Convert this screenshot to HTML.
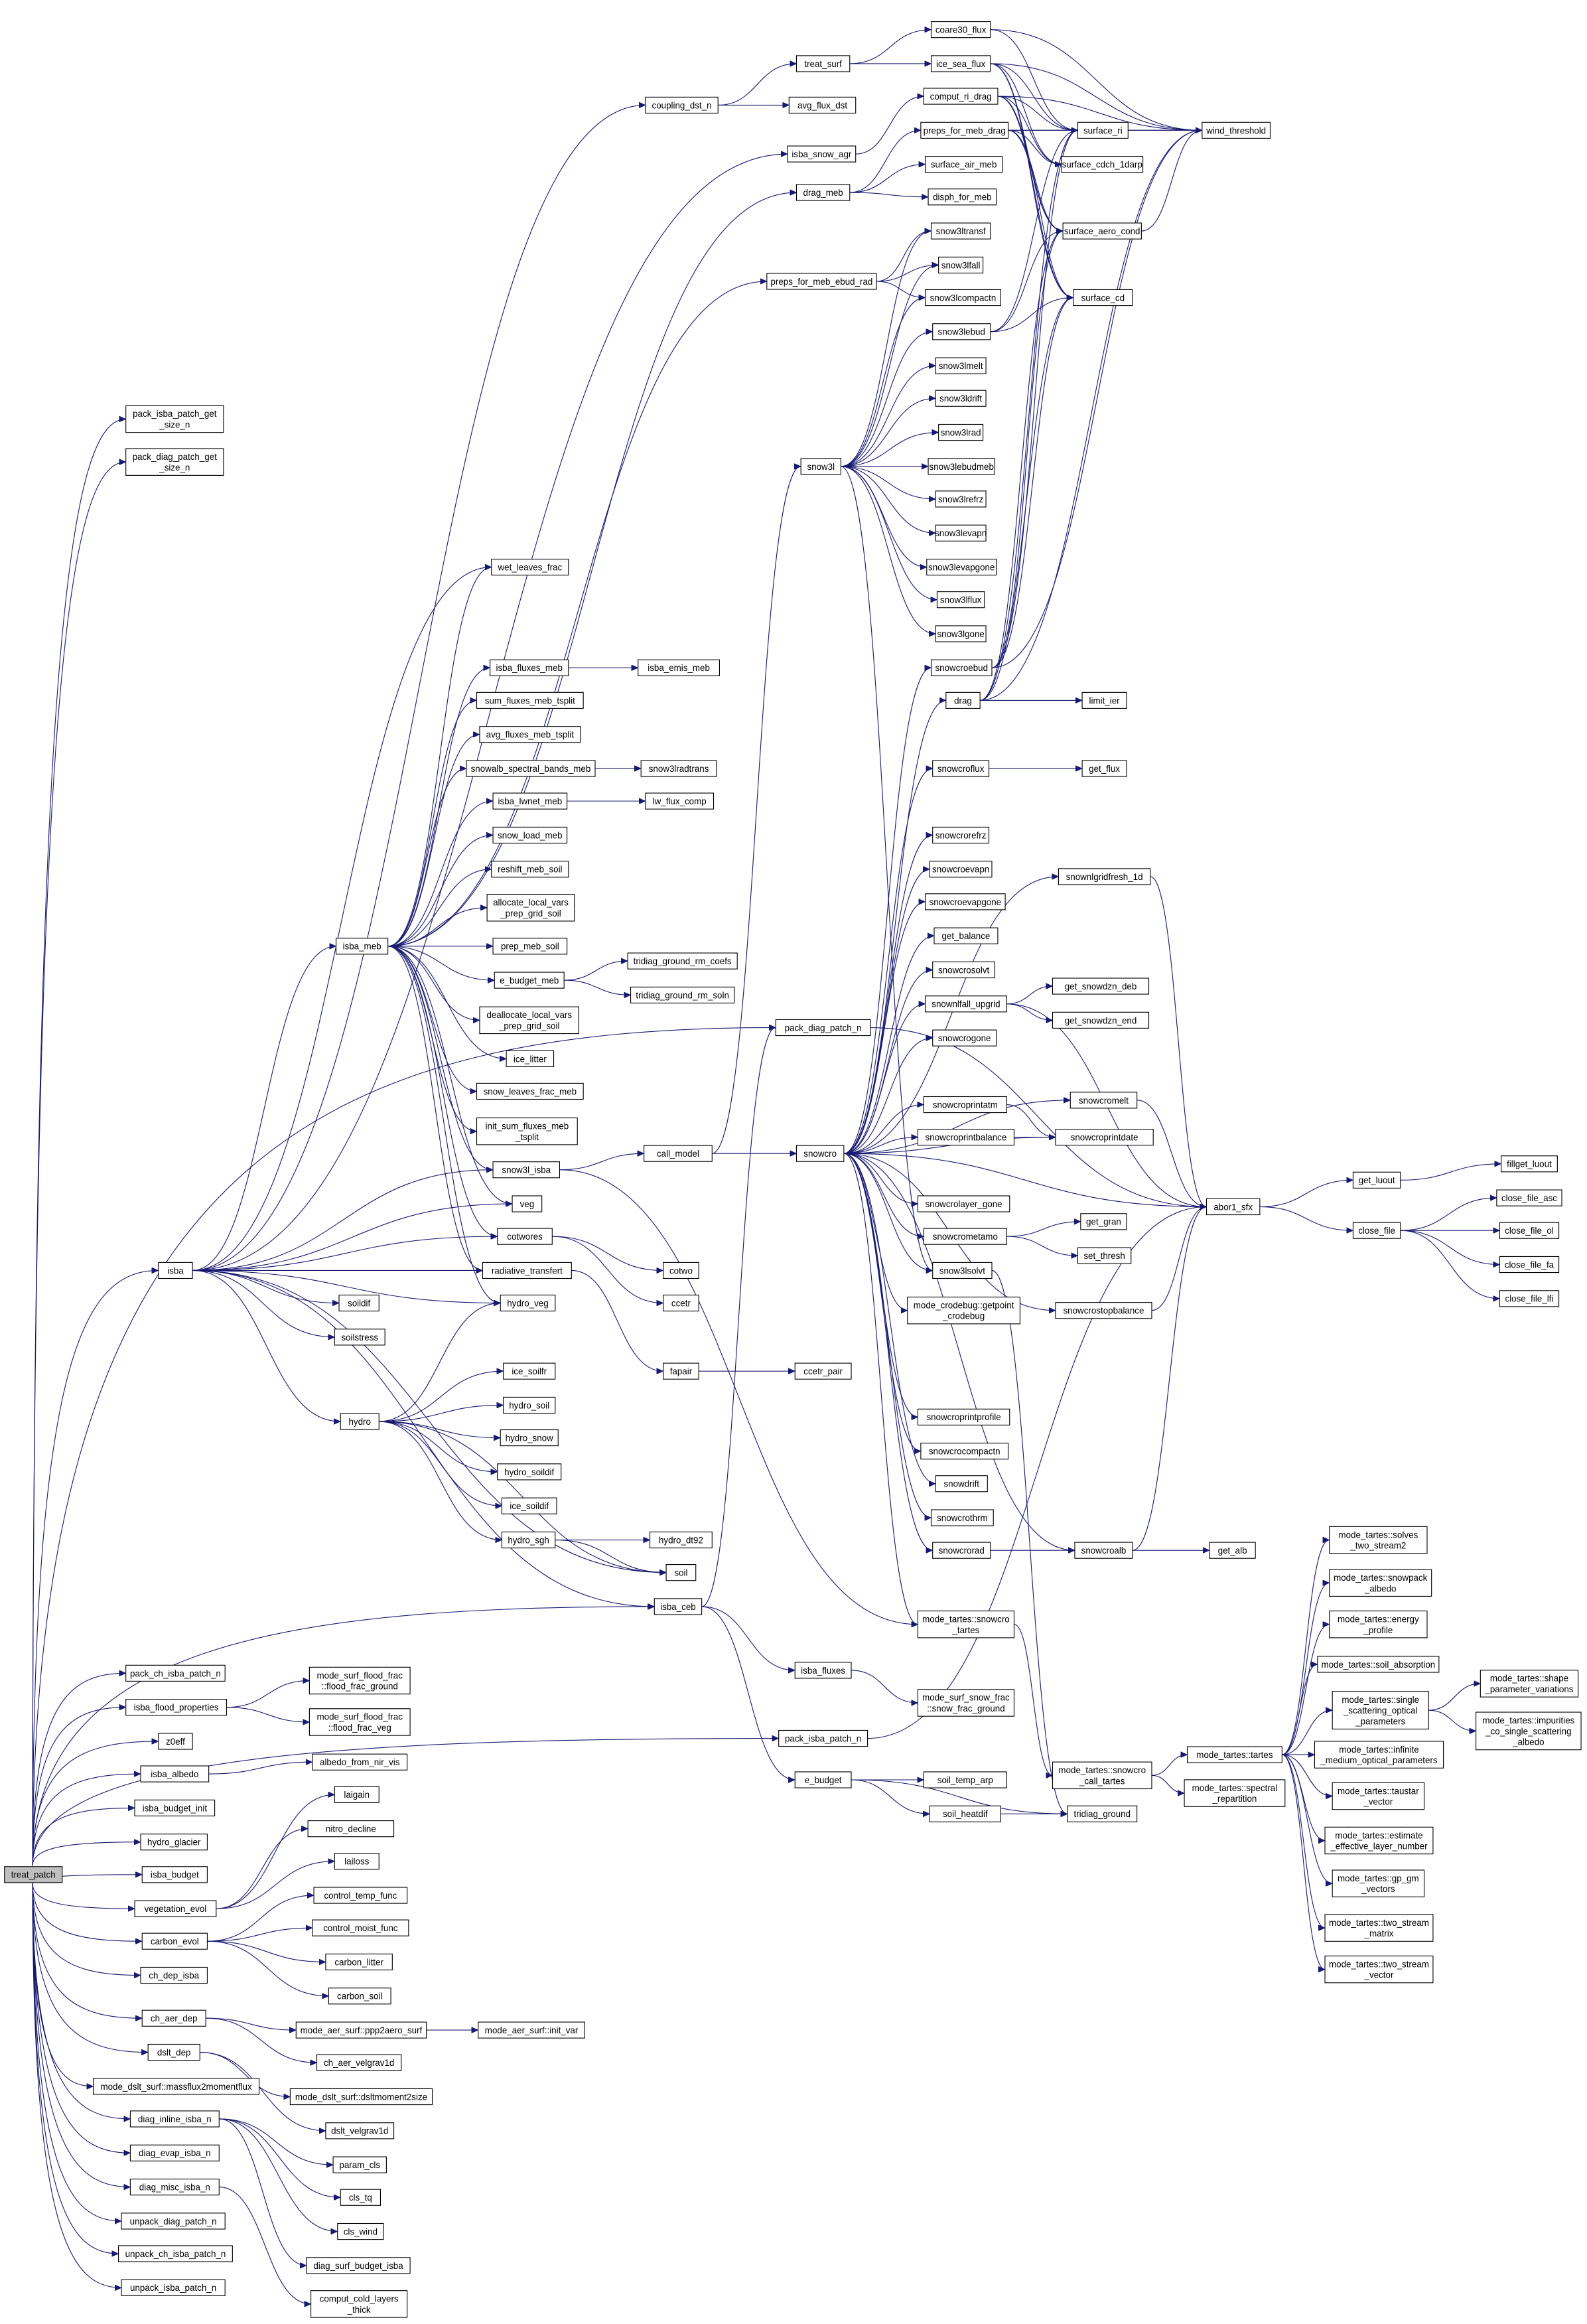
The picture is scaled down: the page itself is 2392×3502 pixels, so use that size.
<!DOCTYPE html>
<html><head><meta charset="utf-8">
<style>
html,body{margin:0;padding:0;background:#fff;}
svg{display:block;}
text{font-family:"Liberation Sans",sans-serif;}
</style></head>
<body>
<svg id="g" xmlns="http://www.w3.org/2000/svg" width="2392" height="3502" viewBox="0 0 1072 1569.5">
<defs><marker id="a" markerUnits="userSpaceOnUse" markerWidth="5" markerHeight="4" refX="4.5" refY="2" orient="auto"><path d="M0,0 L4.5,2 L0,4 z" fill="#191970" stroke="#191970" stroke-width="0.3"/></marker></defs>
<g id="e"></g><g id="n"></g>
</svg>
<script>
var N={
treat_patch:[3,42,1266,"treat_patch"],
pis:[85,151,283,"pack_isba_patch_get\n_size_n"],
pds:[85,151,312,"pack_diag_patch_get\n_size_n"],
isba:[107,130,858,"isba"],
pch:[85,152,1130,"pack_ch_isba_patch_n"],
ifp:[85,153,1153,"isba_flood_properties"],
z0:[107,130,1176,"z0eff"],
ialb:[95,141,1198,"isba_albedo"],
ibi:[91,145,1221,"isba_budget_init"],
hg:[95,140,1244,"hydro_glacier"],
ib:[96,140,1266,"isba_budget"],
ve:[91,146,1289,"vegetation_evol"],
ce:[96,140,1311,"carbon_evol"],
cdi:[95,140,1334,"ch_dep_isba"],
cad:[96,139,1363,"ch_aer_dep"],
dd:[100,135,1386,"dslt_dep"],
mdm:[63,175,1409,"mode_dslt_surf::massflux2momentflux"],
dii:[88,148,1431,"diag_inline_isba_n"],
dei:[88,148,1454,"diag_evap_isba_n"],
dmi:[88,148,1477,"diag_misc_isba_n"],
udp:[82,152,1500,"unpack_diag_patch_n"],
ucp:[80,157,1522,"unpack_ch_isba_patch_n"],
uip:[82,152,1545,"unpack_isba_patch_n"],
meb:[227,262,639,"isba_meb"],
hydro:[230,256,960,"hydro"],
laig:[226,256,1212,"laigain"],
nd:[208,266,1235,"nitro_decline"],
lail:[226,256,1257,"lailoss"],
ctf:[212,275,1280,"control_temp_func"],
cmf:[211,276,1302,"control_moist_func"],
cl:[220,265,1325,"carbon_litter"],
cs:[222,264,1348,"carbon_soil"],
ffg:[209,277,1135,"mode_surf_flood_frac\n::flood_frac_ground"],
ffv:[209,277,1163,"mode_surf_flood_frac\n::flood_frac_veg"],
anv:[211,275,1190,"albedo_from_nir_vis"],
ppp:[200,288,1371,"mode_aer_surf::ppp2aero_surf"],
cav:[214,271,1393,"ch_aer_velgrav1d"],
dms:[196,292,1416,"mode_dslt_surf::dsltmoment2size"],
dv:[220,266,1439,"dslt_velgrav1d"],
pc:[225,261,1462,"param_cls"],
ctq:[230,257,1484,"cls_tq"],
cw:[228,259,1507,"cls_wind"],
dsb:[207,277,1530,"diag_surf_budget_isba"],
ccl:[210,275,1556,"comput_cold_layers\n_thick"],
wlf:[332,384,383,"wet_leaves_frac"],
ifm:[331,384,451,"isba_fluxes_meb"],
sfm:[322,394,473,"sum_fluxes_meb_tsplit"],
afm:[324,392,496,"avg_fluxes_meb_tsplit"],
ssb:[315,402,519,"snowalb_spectral_bands_meb"],
ilm:[333,383,541,"isba_lwnet_meb"],
slm:[333,383,564,"snow_load_meb"],
rms:[332,384,587,"reshift_meb_soil"],
alv:[329,388,613,"allocate_local_vars\n_prep_grid_soil"],
pms:[333,383,639,"prep_meb_soil"],
ebm:[334,381,662,"e_budget_meb"],
dlv:[324,391,689,"deallocate_local_vars\n_prep_grid_soil"],
il:[342,374,715,"ice_litter"],
slf:[322,394,737,"snow_leaves_frac_meb"],
isf:[322,390,764,"init_sum_fluxes_meb\n_tsplit"],
s3i:[333,378,790,"snow3l_isba"],
veg:[346,366,813,"veg"],
cot:[336,373,835,"cotwores"],
rt:[326,386,858,"radiative_transfert"],
hv:[338,375,880,"hydro_veg"],
sd:[229,256,880,"soildif"],
ss:[226,260,903,"soilstress"],
isf2:[340,375,926,"ice_soilfr"],
hs:[340,375,949,"hydro_soil"],
hsn:[338,377,971,"hydro_snow"],
hsd:[336,379,994,"hydro_soildif"],
isd:[339,376,1017,"ice_soildif"],
hsg:[339,375,1040,"hydro_sgh"],
soil:[450,470,1062,"soil"],
cdn:[436,485,71,"coupling_dst_n"],
iem:[431,486,451,"isba_emis_meb"],
s3r:[433,484,519,"snow3lradtrans"],
lfc:[436,482,541,"lw_flux_comp"],
trc:[424,498,649,"tridiag_ground_rm_coefs"],
trs:[426,496,672,"tridiag_ground_rm_soln"],
cm:[435,481,779,"call_model"],
cotwo:[448,472,858,"cotwo"],
ccetr:[448,472,880,"ccetr"],
fap:[448,472,926,"fapair"],
ccp:[537,575,926,"ccetr_pair"],
hdt:[439,481,1040,"hydro_dt92"],
ceb:[442,474,1085,"isba_ceb"],
ifl:[537,575,1128,"isba_fluxes"],
pip:[526,586,1174,"pack_isba_patch_n"],
eb:[537,575,1202,"e_budget"],
pdp:[524,588,694,"pack_diag_patch_n"],
isa:[532,578,104,"isba_snow_agr"],
dm:[538,574,130,"drag_meb"],
pfe:[518,592,190,"preps_for_meb_ebud_rad"],
ts:[538,574,43,"treat_surf"],
afd:[533,578,71,"avg_flux_dst"],
s3l:[541,568,315,"snow3l"],
sc:[538,570,779,"snowcro"],
msf:[620,685,1150,"mode_surf_snow_frac\n::snow_frac_ground"],
sta:[624,680,1202,"soil_temp_arp"],
sh:[628,676,1225,"soil_heatdif"],
mst:[620,685,1097,"mode_tartes::snowcro\n_tartes"],
c30:[629,669,20,"coare30_flux"],
isf3:[629,669,43,"ice_sea_flux"],
crd:[624,674,65,"comput_ri_drag"],
pmd:[622,681,88,"preps_for_meb_drag"],
sam:[625,677,111,"surface_air_meb"],
dfm:[627,673,133,"disph_for_meb"],
s3t:[629,669,156,"snow3ltransf"],
s3f:[634,664,179,"snow3lfall"],
s3c:[625,676,201,"snow3lcompactn"],
s3e:[630,669,224,"snow3lebud"],
s3m:[632,666,247,"snow3lmelt"],
s3d:[632,666,269,"snow3ldrift"],
s3ra:[634,664,292,"snow3lrad"],
s3em:[627,672,315,"snow3lebudmeb"],
s3rf:[632,666,337,"snow3lrefrz"],
s3ev:[632,666,360,"snow3levapn"],
s3eg:[626,673,383,"snow3levapgone"],
s3fl:[633,665,405,"snow3lflux"],
s3g:[632,666,428,"snow3lgone"],
sceb:[629,670,451,"snowcroebud"],
drag:[639,662,473,"drag"],
scf:[630,668,519,"snowcroflux"],
scr:[630,668,564,"snowcrorefrz"],
sce:[628,670,587,"snowcroevapn"],
sceg:[625,679,609,"snowcroevapgone"],
gb:[631,674,632,"get_balance"],
scs:[630,672,655,"snowcrosolvt"],
snu:[625,680,678,"snownlfall_upgrid"],
scg:[630,673,701,"snowcrogone"],
spa:[624,680,746,"snowcroprintatm"],
spb:[620,685,768,"snowcroprintbalance"],
slg:[620,682,813,"snowcrolayer_gone"],
smt:[624,680,835,"snowcrometamo"],
s3s:[630,670,858,"snow3lsolvt"],
mcd:[613,689,885,"mode_crodebug::getpoint\n_crodebug"],
spp:[620,682,957,"snowcroprintprofile"],
scc:[622,681,980,"snowcrocompactn"],
sdr:[632,667,1002,"snowdrift"],
sct:[629,671,1025,"snowcrothrm"],
scra:[630,669,1047,"snowcrorad"],
sri:[728,762,88,"surface_ri"],
scd1:[717,772,111,"surface_cdch_1darp"],
sac:[718,771,156,"surface_aero_cond"],
scd:[725,765,201,"surface_cd"],
wt:[812,858,88,"wind_threshold"],
li:[731,761,473,"limit_ier"],
gf:[731,761,519,"get_flux"],
sng:[715,777,592,"snownlgridfresh_1d"],
gsd:[711,776,666,"get_snowdzn_deb"],
gse:[711,776,689,"get_snowdzn_end"],
scm:[723,768,743,"snowcromelt"],
spd:[713,779,768,"snowcroprintdate"],
gg:[730,761,825,"get_gran"],
st:[728,764,848,"set_thresh"],
ssb2:[713,778,885,"snowcrostopbalance"],
sca:[726,765,1047,"snowcroalb"],
mct:[711,778,1199,"mode_tartes::snowcro\n_call_tartes"],
tg:[721,768,1225,"tridiag_ground"],
ab:[815,851,815,"abor1_sfx"],
ga:[817,848,1047,"get_alb"],
gl:[914,946,797,"get_luout"],
cf:[914,946,831,"close_file"],
fl:[1014,1052,786,"fillget_luout"],
cfa:[1011,1055,809,"close_file_asc"],
cfo:[1013,1053,831,"close_file_ol"],
cff:[1013,1053,854,"close_file_fa"],
cfl:[1013,1053,877,"close_file_lfi"],
mt:[802,866,1185,"mode_tartes::tartes"],
msr:[800,868,1211,"mode_tartes::spectral\n_repartition"],
t1:[898,964,1040,"mode_tartes::solves\n_two_stream2"],
t2:[898,967,1069,"mode_tartes::snowpack\n_albedo"],
t3:[898,964,1097,"mode_tartes::energy\n_profile"],
t4:[890,972,1124,"mode_tartes::soil_absorption"],
t5:[900,965,1155,"mode_tartes::single\n_scattering_optical\n_parameters"],
t6:[888,975,1185,"mode_tartes::infinite\n_medium_optical_parameters"],
t7:[900,962,1213,"mode_tartes::taustar\n_vector"],
t8:[895,968,1243,"mode_tartes::estimate\n_effective_layer_number"],
t9:[900,962,1272,"mode_tartes::gp_gm\n_vectors"],
t10:[895,968,1302,"mode_tartes::two_stream\n_matrix"],
t11:[895,968,1330,"mode_tartes::two_stream\n_vector"],
t12:[1000,1066,1137,"mode_tartes::shape\n_parameter_variations"],
t13:[997,1068,1169,"mode_tartes::impurities\n_co_single_scattering\n_albedo"],
iv:[323,395,1371,"mode_aer_surf::init_var"]
};
var E={
treat_patch:"pis pds isba pch ifp z0 ialb ibi hg ib ve ce cdi cad dd mdm dii dei dmi udp ucp uip pdp pip ceb",
isba:"meb isa s3i veg cot rt hv sd ss hydro soil ceb wlf cdn",
meb:"wlf ifm sfm afm ssb ilm slm rms alv pms ebm dlv il slf isf s3i veg cot rt hv dm pfe",
ifm:"iem",ssb:"s3r",ilm:"lfc",ebm:"trc trs",
s3i:"cm mst",cm:"s3l sc",cot:"cotwo ccetr",rt:"fap",fap:"ccp",
hydro:"hv isf2 hs hsn hsd isd hsg soil",hsg:"hdt soil",
ceb:"pdp ifl eb",ifl:"msf",eb:"sta sh tg",sh:"tg",pip:"ab",pdp:"ab",
cdn:"ts afd",ts:"c30 isf3",c30:"sri wt",isf3:"sri wt sac scd scd1",
crd:"sri wt scd1 sac scd",pmd:"sri scd1 sac scd wt",isa:"crd",dm:"pmd sam dfm",pfe:"s3t s3f s3c",
s3l:"s3t s3f s3c s3e s3m s3d s3ra s3em s3rf s3ev s3eg s3fl s3g s3s",
s3e:"scd sac sri",sceb:"sri sac scd wt",drag:"li sri sac wt scd",sri:"wt",sac:"wt",
sc:"sceb drag scf scr sce sceg gb scs snu scg spa spb spd slg smt s3s mcd ssb2 spp scc sdr sct scra sca mst ab sng scm",
scf:"gf",snu:"gsd gse ab",spa:"spd",spb:"spd",smt:"gg st",ssb2:"ab",scm:"ab",sng:"ab",
scra:"sca",sca:"ga ab",s3s:"tg",mst:"mct",mct:"mt msr",
mt:"t1 t2 t3 t4 t5 t6 t7 t8 t9 t10 t11",t5:"t12 t13",ab:"gl cf",gl:"fl",cf:"cfa cfo cff cfl",
ve:"laig nd lail",ce:"ctf cmf cl cs",cad:"ppp cav",ppp:"iv",dd:"dms dv",
dii:"pc ctq cw dsb",dmi:"ccl",ifp:"ffg ffv",ialb:"anv"
};
var ns="http://www.w3.org/2000/svg";
function el(t,a,p){var e=document.createElementNS(ns,t);for(var k in a)e.setAttribute(k,a[k]);p.appendChild(e);return e;}
function h(n){return n[3].split("\n").length*7.3+3.5;}
var eg=document.getElementById("e"),ng=document.getElementById("n");
for(var s in E){var S=N[s];E[s].split(" ").forEach(function(t){var T=N[t];if(!T)return;
 var d,tx=T[0],ty=T[2];
 if(s=="treat_patch"){var sx=22,sy=ty<1266?1260:1272;
  d="M"+sx+","+sy+" C"+sx+","+(sy+(ty-sy)*0.85)+" "+(sx+(tx-sx)*0.4)+","+ty+" "+tx+","+ty;}
 else{var sx=S[1],sy=S[2];if(tx<sx){tx=T[0]+(T[1]-T[0])/2;ty=T[2]+h(T)/2*(ty>sy?-1:1);}
  var dx=Math.max(tx-sx,10);
  d="M"+sx+","+sy+" C"+(sx+dx*0.5)+","+sy+" "+(tx-dx*0.5)+","+ty+" "+tx+","+ty;}
 el("path",{d:d,fill:"none",stroke:"#191970","stroke-width":"0.5","marker-end":"url(#a)"},eg);});}
for(var k in N){var n=N[k],H=h(n),L=n[3].split("\n");
 el("rect",{x:n[0],y:n[2]-H/2,width:n[1]-n[0],height:H,fill:k=="treat_patch"?"#bfbfbf":"#fff",stroke:"#000","stroke-width":"0.5"},ng);
 L.forEach(function(l,i){var t=el("text",{x:(n[0]+n[1])/2,y:n[2]-(L.length-1)*3.65+i*7.3+2.2,"text-anchor":"middle","font-size":"6"},ng);t.textContent=l;});}
</script>
</body></html>
